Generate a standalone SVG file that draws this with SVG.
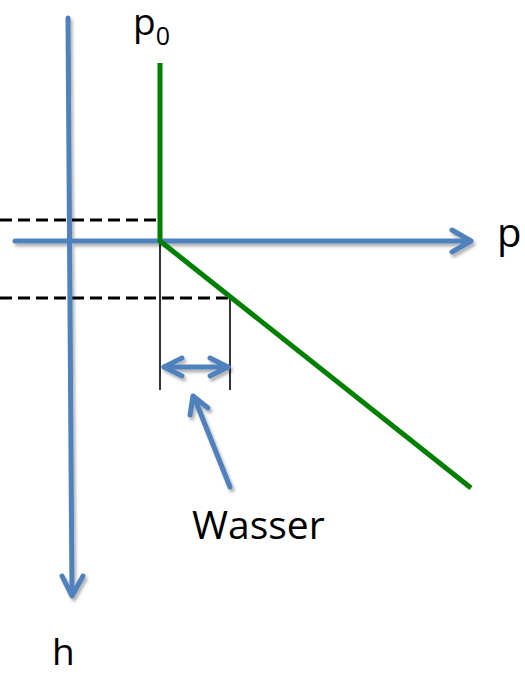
<svg xmlns="http://www.w3.org/2000/svg" width="525" height="675" viewBox="0 0 525 675">
  <defs>
    <filter id="shadow" x="-20%" y="-20%" width="140%" height="140%">
      <feDropShadow dx="2" dy="3" stdDeviation="1.8" flood-color="#000" flood-opacity="0.3"/>
    </filter>
    <style>
      .blue { fill: none; stroke: #4F81BD; stroke-width: 5; stroke-linecap: round; stroke-linejoin: round; }
      .green { fill: none; stroke: #008000; stroke-width: 5; stroke-linejoin: miter; }
      .dash { fill: none; stroke: #000; stroke-width: 3; stroke-dasharray: 12 6; }
      .thin { fill: none; stroke: #000; stroke-width: 1.6; }
      .lbl { font-family: "Open Sans", "Liberation Sans", sans-serif; fill: #000; }
    </style>
  </defs>
  <rect width="525" height="675" fill="#fff"/>

  <g id="guides">
    <path class="dash" d="M0 220 H160"/>
    <path class="dash" d="M0 298 H230"/>
    <path class="thin" d="M160 220 V390"/>
    <path class="thin" d="M230 298 V390"/>
  </g>

  <g id="axes" filter="url(#shadow)">
    <g id="axis-h">
      <path class="blue" d="M68 18 L72 595"/>
      <path class="blue" d="M62 576 L72 596 L83 576"/>
    </g>
    <g id="axis-p">
      <path class="blue" d="M15 241 H470"/>
      <path class="blue" d="M452 230 L471 241 L452 252"/>
    </g>
  </g>

  <g id="curve">
    <path class="green" d="M160 63 V241 L471 488"/>
  </g>

  <g id="connectors" filter="url(#shadow)">
    <g id="water-width">
      <path class="blue" d="M164 367 H228"/>
      <path class="blue" d="M182 358 L164 367 L182 376"/>
      <path class="blue" d="M210 358 L228 367 L210 376"/>
    </g>
    <g id="water-pointer">
      <path class="blue" d="M230 487 L194 397"/>
      <path class="blue" d="M190 415 L193 396 L208 408"/>
    </g>
  </g>

  <g id="labels">
    <text id="label-p0" class="lbl" x="133" y="35" font-size="37">p<tspan font-size="25" dy="10">0</tspan></text>
    <text id="label-p" class="lbl" x="497" y="247" font-size="40">p</text>
    <text id="label-h" class="lbl" x="52" y="665" font-size="37">h</text>
    <text id="label-wasser" class="lbl" x="192" y="539" font-size="39">Wasser</text>
  </g>
</svg>
